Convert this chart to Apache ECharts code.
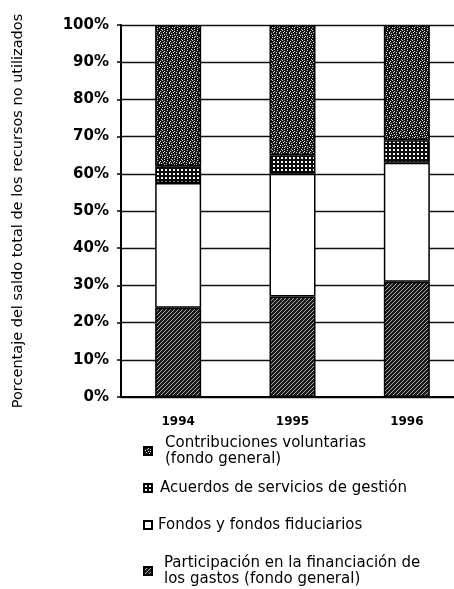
<!DOCTYPE html>
<html>
<head>
<meta charset="utf-8">
<script src="https://cdn.jsdelivr.net/npm/echarts@6/dist/echarts.min.js"></script>
<style>
  html, body { margin: 0; padding: 0; background: #fff; }
  #chart { width: 454px; height: 589px; }
</style>
</head>
<body>
<div id="chart"></div>
<script>
  // data (percent of total)
  var years = ['1994', '1995', '1996']
  var participacion = [24, 27, 31]
  var fondos = [33.5, 33, 32]
  var acuerdos = [4.5, 5, 6]
  var contribuciones = [38, 35, 31]
  var yTicks = [0, 10, 20, 30, 40, 50, 60, 70, 80, 90, 100]

  var names = {
    contrib: 'Contribuciones voluntarias\n(fondo general)',
    acuerdos: 'Acuerdos de servicios de gestión',
    fondos: 'Fondos y fondos fiduciarios',
    partic: 'Participación en la financiación de\nlos gastos (fondo general)'
  }

  // small canvas tiles to imitate the printed fills
  function tile(rows, bg, fg) {
    var c = document.createElement('canvas')
    c.width = rows[0].length
    c.height = rows.length
    var ctx = c.getContext('2d')
    ctx.fillStyle = bg
    ctx.fillRect(0, 0, c.width, c.height)
    ctx.fillStyle = fg
    for (var y = 0; y < rows.length; y++) {
      for (var x = 0; x < rows[y].length; x++) {
        if (rows[y][x] === 'x') ctx.fillRect(x, y, 1, 1)
      }
    }
    return { image: c, repeat: 'repeat' }
  }

  var fillContrib = tile([
    '..x....x..',
    'x...x.....',
    '...x..x..x',
    '.x.......x',
    '....x.x...',
    'x.x.......',
    '.....x.x..',
    '..x.x....x',
    '.......x..',
    '.x..x.....'
  ], '#161616', '#d8d8d8')
  var fillAcuerdos = tile([
    '....',
    '.xx.',
    '.xx.',
    '....'
  ], '#0c0c0c', '#f4f4f4')
  var fillPartic = tile([
    '...x',
    '..x.',
    '.x..',
    'x...'
  ], '#1a1a1a', '#a8a8a8')

  var chart = echarts.init(document.getElementById('chart'))

  function seriesItem(name, data, fill) {
    return {
      type: 'bar',
      name: name,
      stack: 'total',
      barWidth: 46,
      data: data,
      itemStyle: { color: fill, borderColor: '#000', borderWidth: 1.5 },
      emphasis: { disabled: true },
      animation: false
    }
  }

  function legendItem(name, top, pad) {
    return {
      data: [name],
      left: 143,
      top: top,
      padding: 0,
      orient: 'vertical',
      icon: 'rect',
      itemWidth: 8,
      itemHeight: 8,
      selectedMode: false,
      textStyle: {
        fontFamily: 'DejaVu Sans',
        fontSize: 15,
        lineHeight: 16,
        color: '#000',
        padding: [0, 0, 0, pad]
      }
    }
  }

  chart.setOption({
    animation: false,
    // the scan cuts the plot off on the right, so the grid runs past the page edge
    grid: { left: 121, width: 343, top: 25, bottom: 192, outerBoundsMode: 'none', containLabel: false },
    legend: [
      legendItem(names.contrib, 435, 8),
      legendItem(names.acuerdos, 480, 3),
      legendItem(names.fondos, 517, 1),
      legendItem(names.partic, 555, 7)
    ],
    xAxis: {
      type: 'category',
      data: years,
      axisLine: { lineStyle: { color: '#000', width: 2 } },
      axisTick: { show: false },
      axisLabel: {
        margin: 19,
        color: '#000',
        fontFamily: 'DejaVu Sans',
        fontWeight: 'bold',
        fontSize: 12
      }
    },
    yAxis: {
      type: 'value',
      min: yTicks[0],
      max: yTicks[yTicks.length - 1],
      interval: 10,
      name: 'Porcentaje del saldo total de los recursos no utilizados',
      nameLocation: 'middle',
      nameGap: 95,
      nameTextStyle: { fontFamily: 'DejaVu Sans', fontSize: 14.5, color: '#000' },
      axisLine: { show: true, lineStyle: { color: '#000', width: 2 } },
      axisTick: { show: true, length: 4, lineStyle: { color: '#000', width: 1.5 } },
      splitLine: { lineStyle: { color: '#111', width: 1.3 } },
      axisLabel: {
        margin: 12,
        formatter: '{value}%',
        color: '#000',
        fontFamily: 'DejaVu Sans',
        fontWeight: 'bold',
        fontSize: 15
      }
    },
    series: [
      seriesItem(names.partic, participacion, fillPartic),
      seriesItem(names.fondos, fondos, '#fff'),
      seriesItem(names.acuerdos, acuerdos, fillAcuerdos),
      seriesItem(names.contrib, contribuciones, fillContrib)
    ]
  })
</script>
</body>
</html>
